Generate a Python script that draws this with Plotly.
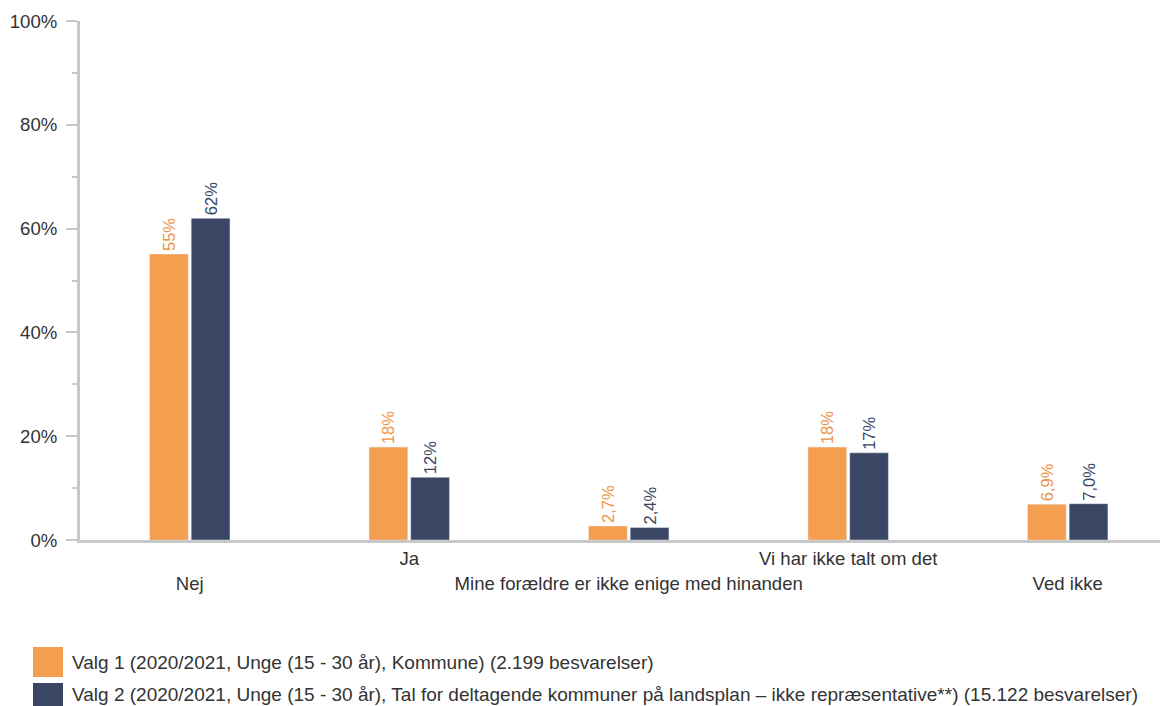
import plotly.graph_objects as go

categories = ["Nej", "Ja", "Mine forældre er ikke enige med hinanden", "Vi har ikke talt om det", "Ved ikke"]
valg1 = [55.1, 17.9, 2.7, 17.9, 6.9]
valg2 = [62.0, 12.1, 2.4, 16.8, 7.0]
valg1_labels = ["55%", "18%", "2,7%", "18%", "6,9%"]
valg2_labels = ["62%", "12%", "2,4%", "17%", "7,0%"]
series_names = [
    "Valg 1 (2020/2021, Unge (15 - 30 år), Kommune) (2.199 besvarelser)",
    "Valg 2 (2020/2021, Unge (15 - 30 år), Tal for deltagende kommuner på landsplan – ikke repræsentative**) (15.122 besvarelser)",
]
y_tickvals = [0, 20, 40, 60, 80, 100]
y_ticktext = ["0%", "20%", "40%", "60%", "80%", "100%"]

ORANGE = "#F49F50"
NAVY = "#394764"
GREY = "#C8C8C8"
FONT = "Liberation Sans, Arial, sans-serif"
TXT = 18.6

# page has an 8px body margin, so the figure is sized/positioned to compensate
OFF = 8
W, H = 1168 - OFF, 706 - OFF
ML, MR, MT, MB = 80 - OFF, 0, 21 - OFF, 706 - 540

x_idx = list(range(len(categories)))
# staggered tick labels
ticktext = [("<br>" + c) if i % 2 == 0 else c for i, c in enumerate(categories)]

fig = go.Figure()
fig.add_trace(go.Bar(x=x_idx, y=valg1, name=series_names[0], marker_color=ORANGE,
                     text=valg1_labels, textposition="outside", textangle=-90,
                     textfont=dict(color="#EC9448", size=16.5, family=FONT), cliponaxis=False,
                     showlegend=False))
fig.add_trace(go.Bar(x=x_idx, y=valg2, name=series_names[1], marker_color=NAVY,
                     text=valg2_labels, textposition="outside", textangle=-90,
                     textfont=dict(color=NAVY, size=16.5, family=FONT), cliponaxis=False,
                     showlegend=False))

plot_h = H - MT - MB
plot_w = W - ML - MR
def py2paper(py):
    # py given in reference page pixels
    return (H - MB - (py - OFF)) / plot_h
def px2paper(px):
    return ((px - OFF) - ML) / plot_w

# manual legend
legend_rows = [(ORANGE, series_names[0], 647, 662), (NAVY, series_names[1], 683, 694)]
shapes = []
annotations = []
for color, name, top, mid in legend_rows:
    shapes.append(dict(type="rect", xref="paper", yref="paper",
                       x0=px2paper(33), x1=px2paper(63),
                       y0=py2paper(top + 30), y1=py2paper(top),
                       fillcolor=color, line=dict(width=0)))
    annotations.append(dict(xref="paper", yref="paper", x=px2paper(70), y=py2paper(mid),
                            text=name, showarrow=False, xanchor="left", yanchor="middle",
                            font=dict(size=19, color="#333333", family=FONT)))

fig.update_layout(
    width=W, height=H,
    margin=dict(l=ML, r=MR, t=MT, b=MB, autoexpand=False),
    plot_bgcolor="white", paper_bgcolor="white",
    barmode="group", bargap=0.62, bargroupgap=0.07,
    font=dict(family=FONT, size=TXT, color="#333333"),
    shapes=shapes, annotations=annotations,
    xaxis=dict(tickmode="array", tickvals=x_idx, ticktext=ticktext, tickangle=0, automargin=False,
               range=[-0.5, 4.457], showline=True, linecolor=GREY, linewidth=3,
               ticks="", showgrid=False, zeroline=False,
               tickfont=dict(size=TXT, color="#333333", family=FONT)),
    yaxis=dict(range=[0, 100], tickmode="array", tickvals=y_tickvals, ticktext=y_ticktext, automargin=False,
               showline=True, linecolor=GREY, linewidth=3, ticks="outside", ticklen=11,
               tickwidth=2, tickcolor=GREY, showgrid=False, zeroline=False, ticklabelstandoff=5,
               minor=dict(ticks="outside", ticklen=5, tickwidth=2, tickcolor=GREY, dtick=10, tick0=0, showgrid=False),
               tickfont=dict(size=TXT, color="#333333", family=FONT)),
)

fig.write_html("out.html")
